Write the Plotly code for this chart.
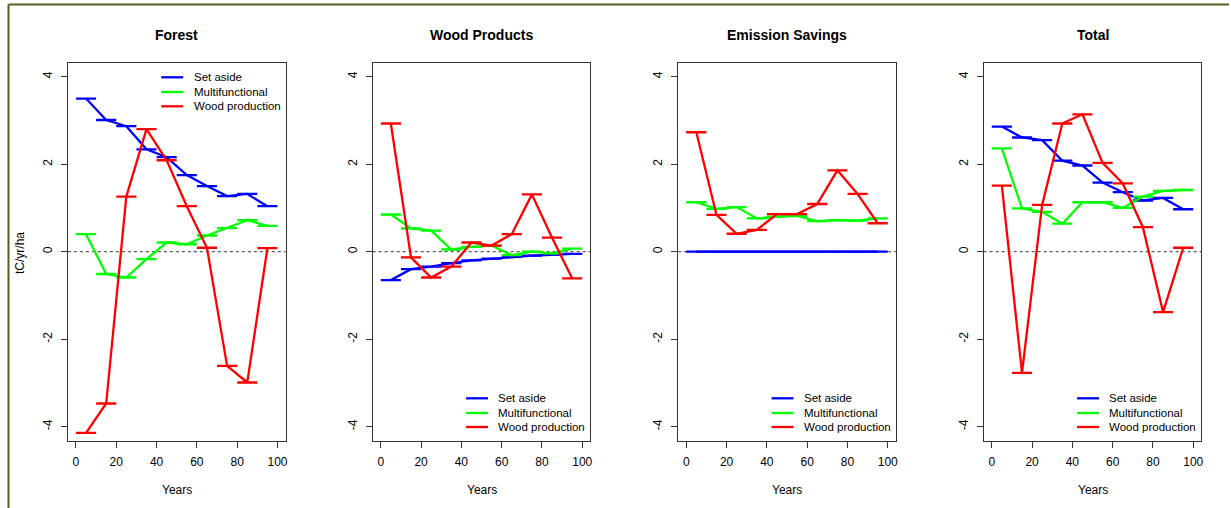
import plotly.graph_objects as go

# ---------------- data ----------------
years = [5, 15, 25, 35, 45, 55, 65, 75, 85, 95]
panel_titles = ["Forest", "Wood Products", "Emission Savings", "Total"]
series_names = ["Set aside", "Multifunctional", "Wood production"]
series_colors = ["#0000FF", "#00FF00", "#FF0000"]

forest_set_aside = [3.50, 3.01, 2.87, 2.34, 2.16, 1.75, 1.50, 1.27, 1.32, 1.04]
forest_multifunctional = [0.40, -0.51, -0.59, -0.17, 0.21, 0.17, 0.37, 0.54, 0.72, 0.59]
forest_wood_production = [-4.14, -3.47, 1.26, 2.80, 2.09, 1.04, 0.09, -2.61, -2.99, 0.08]

products_set_aside = [-0.65, -0.40, -0.34, -0.26, -0.20, -0.16, -0.12, -0.09, -0.07, -0.05]
products_multifunctional = [0.85, 0.53, 0.48, 0.05, 0.11, 0.14, -0.08, 0.00, -0.04, 0.07]
products_wood_production = [2.93, -0.13, -0.59, -0.34, 0.21, 0.14, 0.40, 1.31, 0.32, -0.61]

savings_set_aside = [0.0, 0.0, 0.0, 0.0, 0.0, 0.0, 0.0, 0.0, 0.0, 0.0]
savings_multifunctional = [1.13, 0.98, 1.02, 0.76, 0.80, 0.82, 0.70, 0.72, 0.71, 0.76]
savings_wood_production = [2.73, 0.84, 0.41, 0.50, 0.86, 0.86, 1.09, 1.86, 1.32, 0.65]

total_set_aside = [2.86, 2.61, 2.55, 2.08, 1.97, 1.58, 1.36, 1.17, 1.23, 0.97]
total_multifunctional = [2.36, 0.99, 0.91, 0.64, 1.13, 1.13, 1.00, 1.26, 1.39, 1.41]
total_wood_production = [1.51, -2.77, 1.07, 2.93, 3.14, 2.03, 1.56, 0.56, -1.38, 0.09]

x_tick_vals = [0, 20, 40, 60, 80, 100]
x_tick_text = ["0", "20", "40", "60", "80", "100"]
y_tick_vals = [-4, -2, 0, 2, 4]
y_tick_text = ["-4", "-2", "0", "2", "4"]
x_label = "Years"
y_label = "tC/yr/ha"

panels = [
    [forest_set_aside, forest_multifunctional, forest_wood_production],
    [products_set_aside, products_multifunctional, products_wood_production],
    [savings_set_aside, savings_multifunctional, savings_wood_production],
    [total_set_aside, total_multifunctional, total_wood_production],
]
legend_top = [True, False, False, False]

# ---------------- layout geometry (pixels) ----------------
W, H = 1231, 508
box_left = [68, 373.3, 679.3, 985.3]
box_width = 218
box_top, box_bottom = 63, 441
FONT = "Liberation Sans, Arial, sans-serif"


def px_x(x):
    return x / W


def px_y(y):
    return (H - y) / H


fig = go.Figure()
layout = dict(
    width=W, height=H,
    margin=dict(l=0, r=0, t=0, b=0),
    paper_bgcolor="white",
    plot_bgcolor="white",
    showlegend=False,
    font=dict(family=FONT, size=12, color="#000000"),
)
annotations = []
shapes = []

for i, (title, data) in enumerate(zip(panel_titles, panels)):
    n = "" if i == 0 else str(i + 1)
    xa, ya = "x" + n, "y" + n
    L = box_left[i]
    R = L + box_width
    layout["xaxis" + n] = dict(
        domain=[px_x(L), px_x(R)], anchor=ya, range=[-4, 104],
        tickmode="array", tickvals=x_tick_vals, ticktext=x_tick_text,
        ticks="outside", ticklen=6, tickwidth=1, tickcolor="#333333",
        showline=True, mirror=True, linecolor="#333333", linewidth=1,
        showgrid=False, zeroline=False, ticklabelstandoff=4,
        tickfont=dict(family=FONT, size=12, color="#000000"),
    )
    layout["yaxis" + n] = dict(
        domain=[px_y(box_bottom), px_y(box_top)], anchor=xa, range=[-4.327, 4.313],
        tickmode="array", tickvals=y_tick_vals, ticktext=y_tick_text, tickangle=-90,
        ticks="outside", ticklen=6, tickwidth=1, tickcolor="#333333",
        showline=True, mirror=True, linecolor="#333333", linewidth=1,
        showgrid=False, zeroline=False, ticklabelstandoff=4,
        tickfont=dict(family=FONT, size=12, color="#000000"),
    )
    # dotted zero line
    shapes.append(dict(type="line", xref=xa + " domain", yref=ya, x0=0, x1=1, y0=0, y1=0,
                       line=dict(color="#333333", width=1, dash="dot"), layer="below"))
    for name, color, vals in zip(series_names, series_colors, data):
        fig.add_trace(go.Scatter(
            x=years, y=vals, mode="lines", name=name,
            line=dict(color=color, width=2.3),
            error_x=dict(type="constant", value=5, thickness=2.3, width=0, color=color),
            xaxis=xa, yaxis=ya, showlegend=False, hoverinfo="x+y+name",
        ))
    # title
    annotations.append(dict(text="<b>" + title + "</b>", x=px_x((L + R) / 2), y=px_y(35),
                            xref="paper", yref="paper", showarrow=False,
                            xanchor="center", yanchor="middle",
                            font=dict(family=FONT, size=14, color="#000000")))
    # x label
    annotations.append(dict(text=x_label, x=px_x((L + R) / 2), y=px_y(490),
                            xref="paper", yref="paper", showarrow=False,
                            xanchor="center", yanchor="middle",
                            font=dict(family=FONT, size=12, color="#000000")))
    # legend
    if legend_top[i]:
        rows = [box_top + 14.3, box_top + 29, box_top + 43.3]
    else:
        rows = [box_bottom - 42.7, box_bottom - 28, box_bottom - 14]
    for name, color, ry in zip(series_names, series_colors, rows):
        shapes.append(dict(type="line", xref="paper", yref="paper",
                           x0=px_x(L + 93.5), x1=px_x(L + 115.5), y0=px_y(ry), y1=px_y(ry),
                           line=dict(color=color, width=2.3)))
        annotations.append(dict(text=name, x=px_x(L + 124), y=px_y(ry),
                                xref="paper", yref="paper", showarrow=False,
                                xanchor="left", yanchor="middle",
                                font=dict(family=FONT, size=11.5, color="#000000")))

# y label on first panel
annotations.append(dict(text=y_label, x=px_x(20), y=px_y(253), xref="paper", yref="paper",
                        showarrow=False, textangle=-90, xanchor="center", yanchor="middle",
                        font=dict(family=FONT, size=12, color="#000000")))

# outer frame (dark green)
shapes.append(dict(type="line", xref="paper", yref="paper", x0=px_x(8.5), x1=1.0,
                   y0=px_y(4.5), y1=px_y(4.5), line=dict(color="#4F6228", width=2)))
shapes.append(dict(type="line", xref="paper", yref="paper", x0=px_x(8.5), x1=px_x(8.5),
                   y0=0, y1=px_y(4.5), line=dict(color="#4F6228", width=2)))

layout["annotations"] = annotations
layout["shapes"] = shapes
fig.update_layout(**layout)
fig.write_html("out.html")
